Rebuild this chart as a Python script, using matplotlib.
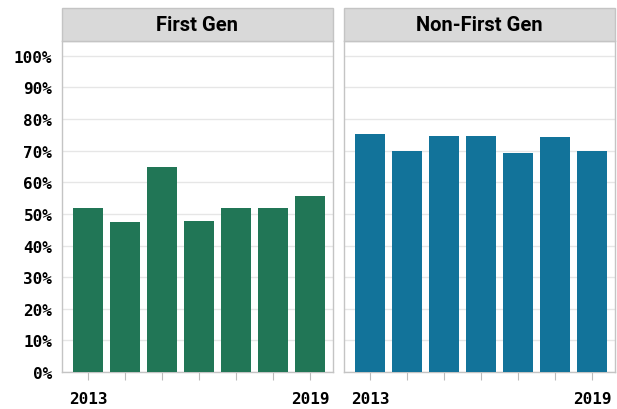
import matplotlib.pyplot as plt
from matplotlib.patches import Rectangle

years = [2013, 2014, 2015, 2016, 2017, 2018, 2019]
first_gen = [52.0, 47.4, 64.8, 47.7, 52.0, 51.8, 55.8]
non_first_gen = [75.3, 70.0, 74.5, 74.8, 69.2, 74.3, 69.8]
panel_titles = ["First Gen", "Non-First Gen"]
year_labels = ["2013", "", "", "", "", "", "2019"]

W, H = 617, 410
fig = plt.figure(figsize=(W / 100, H / 100), dpi=100)

title_font = ['Liberation Sans Narrow', 'Roboto', 'DejaVu Sans']
tick_font = ['DejaVu Sans Mono', 'DejaVu Sans']

panels = [
    (62, 333, first_gen, "#217656"),
    (344, 615, non_first_gen, "#12739a"),
]
top_px, bottom_px, head_px = 42, 373, 9

for i, (x0, x1, vals, color) in enumerate(panels):
    ax = fig.add_axes([x0 / W, 1 - bottom_px / H, (x1 - x0) / W, (bottom_px - top_px) / H])
    pos = list(range(len(years)))
    ax.bar(pos, vals, width=0.8, color=color, zorder=3)
    ax.set_xlim(-0.7, 6.62)
    ax.set_ylim(0, 104.7)
    ax.set_yticks(range(0, 101, 10))
    ax.grid(axis='y', color='#e6e6e6', linewidth=1, zorder=0)
    ax.set_xticks(pos)
    ax.set_xticklabels(year_labels, fontfamily=tick_font, fontweight='bold', fontsize=11.5)
    ax.tick_params(axis='x', length=6, color='#bbbbbb', pad=8)
    if i == 0:
        ax.set_yticklabels([f"{v}%" for v in range(0, 101, 10)],
                           fontfamily=tick_font, fontweight='bold', fontsize=11.5)
        ax.tick_params(axis='y', length=0, pad=7)
    else:
        ax.tick_params(axis='y', length=0, labelleft=False)
    for s in ['left', 'right', 'top', 'bottom']:
        ax.spines[s].set_color('#c4c4c4')
        ax.spines[s].set_linewidth(1)
    # header strip
    fig.patches.append(Rectangle((x0 / W, 1 - top_px / H), (x1 - x0) / W, (top_px - head_px) / H,
                                 transform=fig.transFigure, facecolor='#d9d9d9',
                                 edgecolor='#c4c4c4', linewidth=1))
    fig.text((x0 + x1) / 2 / W, 1 - (top_px + head_px) / 2 / H, panel_titles[i],
             ha='center', va='center', fontsize=14.5, fontweight='bold', fontfamily=title_font)

fig.savefig("out.png", dpi=100)
